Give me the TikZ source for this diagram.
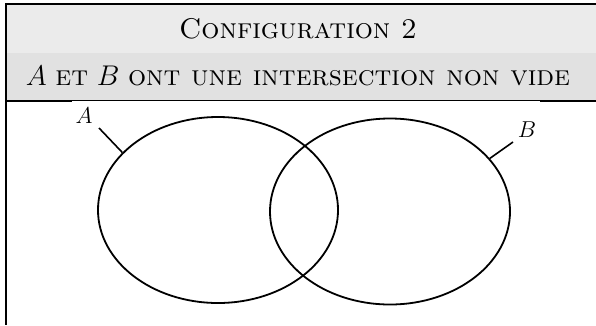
\RequirePackage{fix-cm}
\documentclass[tikz,border=0pt]{standalone}
\usetikzlibrary{shapes.geometric}
\definecolor{rowone}{HTML}{EBEBEB}
\definecolor{rowtwo}{HTML}{E1E1E1}
\tikzset{
  setshape/.style={ellipse, draw, line width=1.8pt, minimum width=240pt, minimum height=186pt, inner sep=0pt},
  headtext/.style={inner sep=0pt, anchor=base, font=\fontsize{28.5}{32}\selectfont},
  labtext/.style={inner sep=0pt, font=\fontsize{23}{26}\selectfont},
  tick/.style={line width=1.6pt},
}
\begin{document}
\begin{tikzpicture}[x=1pt,y=-1pt]
\useasboundingbox (0,0) rectangle (596,325);
\fill[white] (0,0) rectangle (596,325);
% header rows
\fill[rowone] (6,4) rectangle (596,52.5);
\fill[rowtwo] (6,52.5) rectangle (596,100.5);
\draw[line width=1.5pt] (5.3,4) -- (596,4);
\draw[line width=1.5pt] (6,4) -- (6,325);
\draw[line width=2pt] (5.3,100.6) -- (72,100.6);
\draw[line width=1.1pt] (72,100.6) -- (540,100.6);
\draw[line width=2pt] (540,100.6) -- (596,100.6);
% texts
\node[headtext] (title) at (298,38) {\textsc{Configuration 2}};
\node[headtext] (sub) at (298,85) {$A$ \textsc{et} $B$ \textsc{ont une intersection non vide}};
% sets
\node[setshape] (eA) at (218,210) {};
\node[setshape] (eB) at (390,211.5) {};
\coordinate (tA) at (99,128);
\coordinate (tB) at (513,142);
\draw[tick] (eA.149) -- (tA);
\draw[tick] (eB.28) -- (tB);
\node[labtext] (lA) at (84,116) {$A$};
\node[labtext] (lB) at (527,130) {$B$};
\end{tikzpicture}
\end{document}
